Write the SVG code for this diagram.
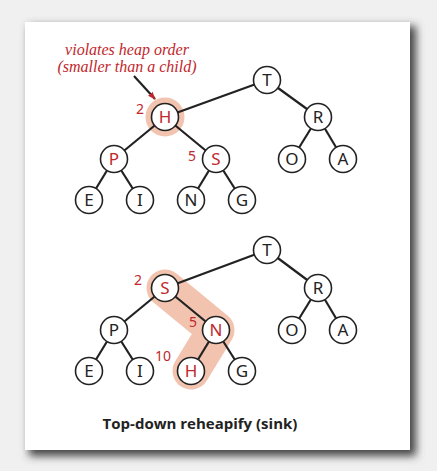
<svg xmlns="http://www.w3.org/2000/svg" width="437" height="471" viewBox="0 0 437 471">
<defs>
<filter id="sh" x="-10%" y="-10%" width="130%" height="130%">
<feGaussianBlur stdDeviation="4"/>
</filter>
<marker id="ah" markerWidth="8" markerHeight="8" refX="7" refY="4" orient="auto" markerUnits="userSpaceOnUse">
<path d="M0,1 L8,4 L0,7 Z" fill="#c1272d"/>
</marker>
</defs>
<style>
.n circle{fill:#fff;stroke:#222;stroke-width:1.6}
.n text{font-family:"Noto Sans","DejaVu Sans",sans-serif;font-size:17px;text-anchor:middle;fill:#222}
.n text.r{fill:#c1272d}
.e line{stroke:#222;stroke-width:2.2}
.lab{font-family:"Noto Sans","DejaVu Sans",sans-serif;font-size:14px;fill:#c1272d}
.note{font-family:"Liberation Serif",serif;font-style:italic;font-size:16px;fill:#c1272d;text-anchor:middle}
</style>
<rect width="437" height="471" fill="#f0f0f0"/>
<rect x="29" y="26" width="387" height="430" fill="#444" filter="url(#sh)"/>
<rect x="25" y="22" width="385" height="428" fill="#fff"/>

<!-- highlights -->
<circle cx="165" cy="117" r="19.5" fill="#f2c4b0"/>
<path d="M165,288 L216,330 L191,371" fill="none" stroke="#f2c4b0" stroke-width="37" stroke-linecap="round" stroke-linejoin="round"/>

<!-- connectors -->
<g id="edges" class="e">
<line x1="267" y1="80" x2="165" y2="117"/>
<line x1="267" y1="80" x2="318" y2="117"/>
<line x1="165" y1="117" x2="114" y2="159"/>
<line x1="165" y1="117" x2="216" y2="159"/>
<line x1="318" y1="117" x2="292" y2="159"/>
<line x1="318" y1="117" x2="343" y2="159"/>
<line x1="114" y1="159" x2="89" y2="200"/>
<line x1="114" y1="159" x2="140" y2="200"/>
<line x1="216" y1="159" x2="191" y2="200"/>
<line x1="216" y1="159" x2="242" y2="200"/>
<line x1="267" y1="250" x2="165" y2="288"/>
<line x1="267" y1="250" x2="318" y2="288"/>
<line x1="165" y1="288" x2="114" y2="330"/>
<line x1="165" y1="288" x2="216" y2="330"/>
<line x1="318" y1="288" x2="292" y2="330"/>
<line x1="318" y1="288" x2="343" y2="330"/>
<line x1="114" y1="330" x2="89" y2="371"/>
<line x1="114" y1="330" x2="140" y2="371"/>
<line x1="216" y1="330" x2="191" y2="371"/>
<line x1="216" y1="330" x2="242" y2="371"/>
<line x1="134" y1="76" x2="155" y2="99" stroke="#c1272d" stroke-width="1.2" marker-end="url(#ah)"/>
</g>

<!-- top tree -->
<g id="t1T" class="n"><circle cx="267" cy="80" r="13.5"/><text x="267" y="86">T</text></g>
<g id="t1H" class="n"><circle cx="165" cy="117" r="13.5"/><text class="r" x="165" y="123">H</text></g>
<g id="t1R" class="n"><circle cx="318" cy="117" r="13.5"/><text x="318" y="123">R</text></g>
<g id="t1P" class="n"><circle cx="114" cy="159" r="13.5"/><text class="r" x="114" y="165">P</text></g>
<g id="t1S" class="n"><circle cx="216" cy="159" r="13.5"/><text class="r" x="216" y="165">S</text></g>
<g id="t1O" class="n"><circle cx="292" cy="159" r="13.5"/><text x="292" y="165">O</text></g>
<g id="t1A" class="n"><circle cx="343" cy="159" r="13.5"/><text x="343" y="165">A</text></g>
<g id="t1E" class="n"><circle cx="89" cy="200" r="13.5"/><text x="89" y="206">E</text></g>
<g id="t1I" class="n"><circle cx="140" cy="200" r="13.5"/><text x="140" y="206">I</text></g>
<g id="t1N" class="n"><circle cx="191" cy="200" r="13.5"/><text x="191" y="206">N</text></g>
<g id="t1G" class="n"><circle cx="242" cy="200" r="13.5"/><text x="242" y="206">G</text></g>

<!-- bottom tree -->
<g id="t2T" class="n"><circle cx="267" cy="250" r="13.5"/><text x="267" y="256">T</text></g>
<g id="t2S" class="n"><circle cx="165" cy="288" r="13.5"/><text class="r" x="165" y="294">S</text></g>
<g id="t2R" class="n"><circle cx="318" cy="288" r="13.5"/><text x="318" y="294">R</text></g>
<g id="t2P" class="n"><circle cx="114" cy="330" r="13.5"/><text x="114" y="336">P</text></g>
<g id="t2N" class="n"><circle cx="216" cy="330" r="13.5"/><text class="r" x="216" y="336">N</text></g>
<g id="t2O" class="n"><circle cx="292" cy="330" r="13.5"/><text x="292" y="336">O</text></g>
<g id="t2A" class="n"><circle cx="343" cy="330" r="13.5"/><text x="343" y="336">A</text></g>
<g id="t2E" class="n"><circle cx="89" cy="371" r="13.5"/><text x="89" y="377">E</text></g>
<g id="t2I" class="n"><circle cx="140" cy="371" r="13.5"/><text x="140" y="377">I</text></g>
<g id="t2H" class="n"><circle cx="191" cy="371" r="13.5"/><text class="r" x="191" y="377">H</text></g>
<g id="t2G" class="n"><circle cx="242" cy="371" r="13.5"/><text x="242" y="377">G</text></g>

<!-- labels -->
<text class="lab" x="136" y="114">2</text>
<text class="lab" x="188" y="161">5</text>
<text class="lab" x="134" y="285">2</text>
<text class="lab" x="189" y="327">5</text>
<text class="lab" x="155" y="361">10</text>
<text class="note" x="127" y="55">violates heap order</text>
<text class="note" x="127" y="72">(smaller than a child)</text>
<text x="200" y="429" font-family="'Open Sans','Liberation Sans',sans-serif" font-weight="bold" font-size="15" fill="#222" text-anchor="middle">Top-down reheapify (sink)</text>
</svg>
